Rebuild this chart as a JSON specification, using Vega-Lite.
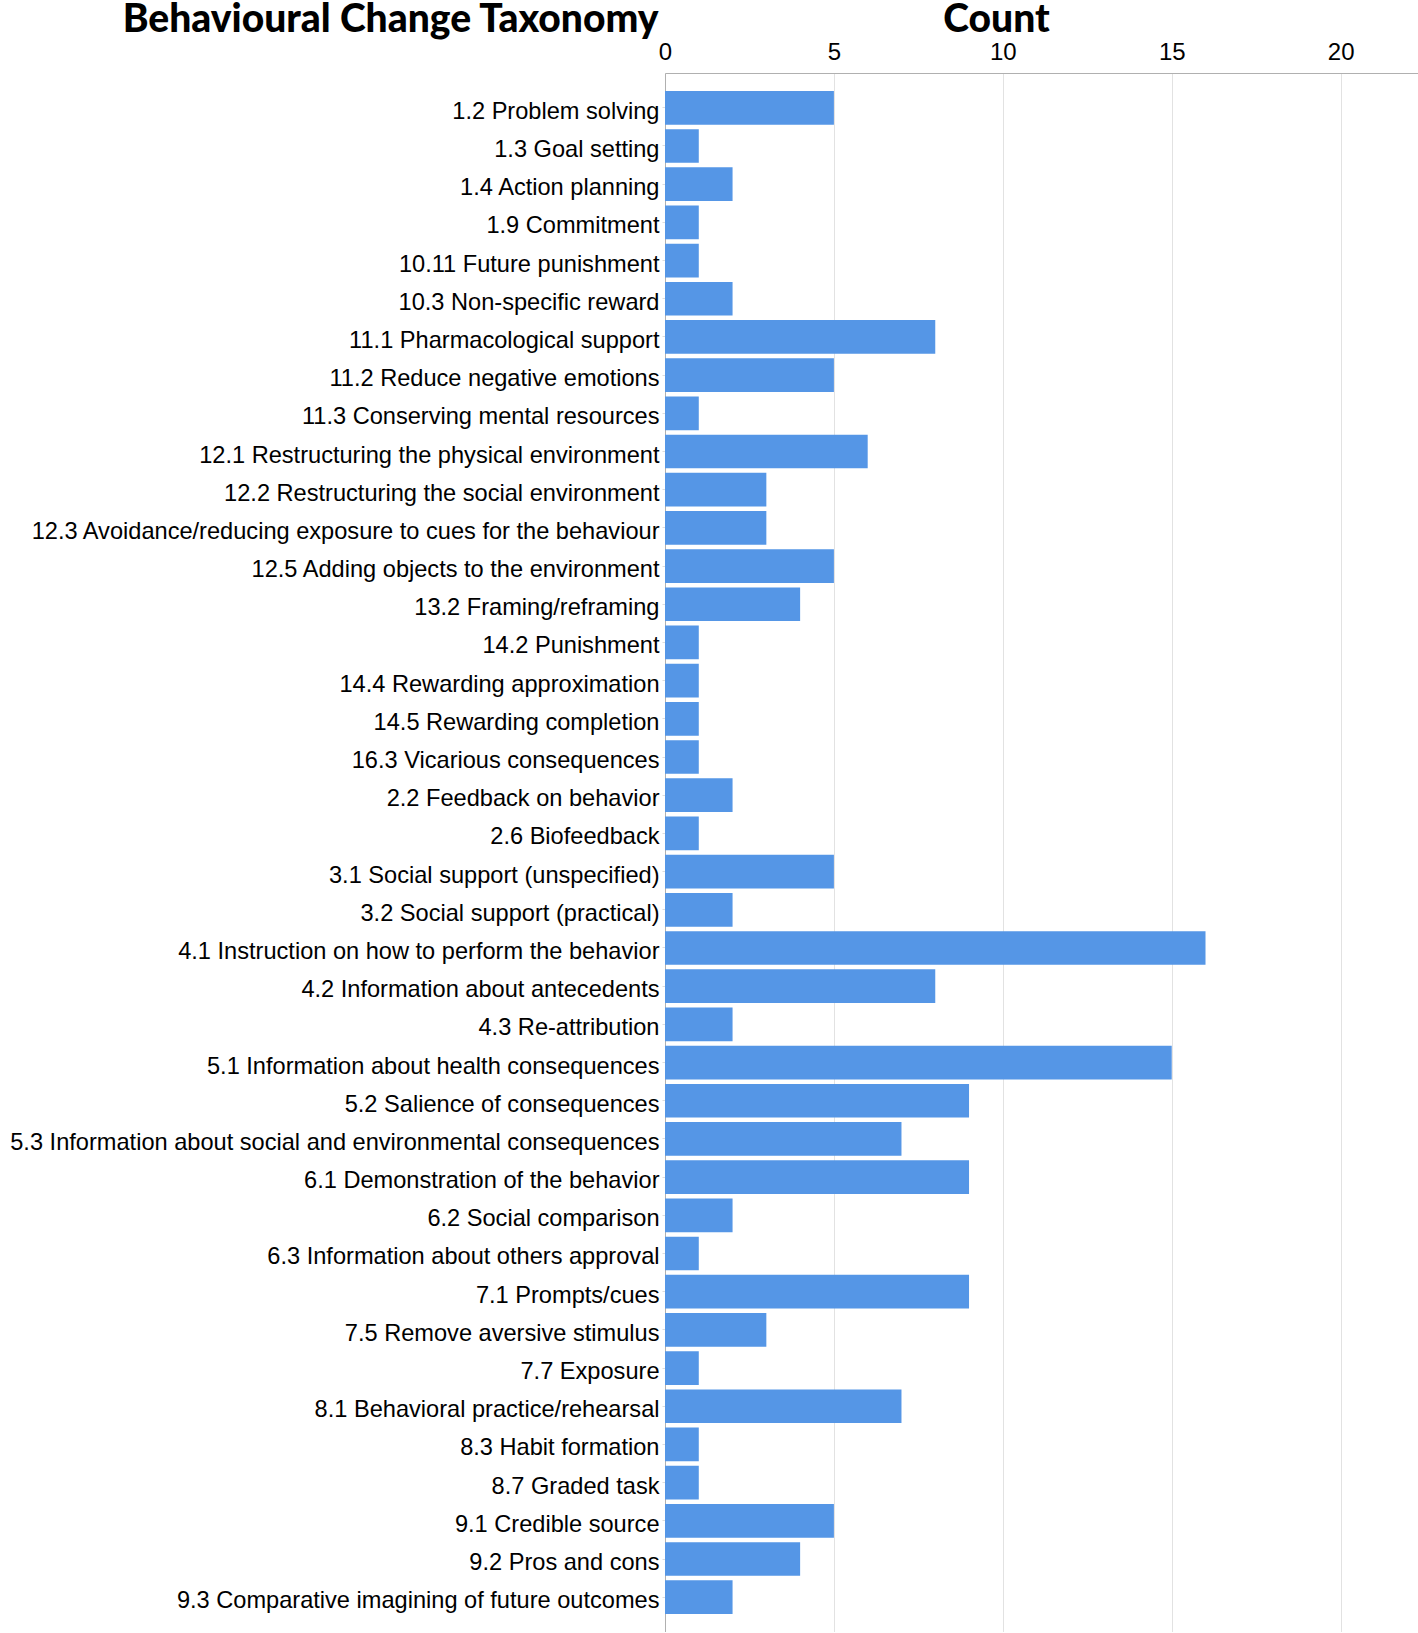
{
  "$schema": "https://vega.github.io/schema/vega-lite/v6.json",
  "autosize": "none",
  "padding": {"left": 665, "top": 73, "right": 0, "bottom": 0},
  "width": 753,
  "height": 1559,
  "background": "white",
  "config": {"view": {"stroke": null}},
  "data": {"values": [
    {"taxonomy": "1.2 Problem solving", "count": 5},
    {"taxonomy": "1.3 Goal setting", "count": 1},
    {"taxonomy": "1.4 Action planning", "count": 2},
    {"taxonomy": "1.9 Commitment", "count": 1},
    {"taxonomy": "10.11 Future punishment", "count": 1},
    {"taxonomy": "10.3 Non-specific reward", "count": 2},
    {"taxonomy": "11.1 Pharmacological support", "count": 8},
    {"taxonomy": "11.2 Reduce negative emotions", "count": 5},
    {"taxonomy": "11.3 Conserving mental resources", "count": 1},
    {"taxonomy": "12.1 Restructuring the physical environment", "count": 6},
    {"taxonomy": "12.2 Restructuring the social environment", "count": 3},
    {"taxonomy": "12.3 Avoidance/reducing exposure to cues for the behaviour", "count": 3},
    {"taxonomy": "12.5 Adding objects to the environment", "count": 5},
    {"taxonomy": "13.2 Framing/reframing", "count": 4},
    {"taxonomy": "14.2 Punishment", "count": 1},
    {"taxonomy": "14.4 Rewarding approximation", "count": 1},
    {"taxonomy": "14.5 Rewarding completion", "count": 1},
    {"taxonomy": "16.3 Vicarious consequences", "count": 1},
    {"taxonomy": "2.2 Feedback on behavior", "count": 2},
    {"taxonomy": "2.6 Biofeedback", "count": 1},
    {"taxonomy": "3.1 Social support (unspecified)", "count": 5},
    {"taxonomy": "3.2 Social support (practical)", "count": 2},
    {"taxonomy": "4.1 Instruction on how to perform the behavior", "count": 16},
    {"taxonomy": "4.2 Information about antecedents", "count": 8},
    {"taxonomy": "4.3 Re-attribution", "count": 2},
    {"taxonomy": "5.1 Information about health consequences", "count": 15},
    {"taxonomy": "5.2 Salience of consequences", "count": 9},
    {"taxonomy": "5.3 Information about social and environmental consequences", "count": 7},
    {"taxonomy": "6.1 Demonstration of the behavior", "count": 9},
    {"taxonomy": "6.2 Social comparison", "count": 2},
    {"taxonomy": "6.3 Information about others approval", "count": 1},
    {"taxonomy": "7.1 Prompts/cues", "count": 9},
    {"taxonomy": "7.5 Remove aversive stimulus", "count": 3},
    {"taxonomy": "7.7 Exposure", "count": 1},
    {"taxonomy": "8.1 Behavioral practice/rehearsal", "count": 7},
    {"taxonomy": "8.3 Habit formation", "count": 1},
    {"taxonomy": "8.7 Graded task", "count": 1},
    {"taxonomy": "9.1 Credible source", "count": 5},
    {"taxonomy": "9.2 Pros and cons", "count": 4},
    {"taxonomy": "9.3 Comparative imagining of future outcomes", "count": 2}
  ]},
  "mark": {"type": "bar", "color": "#5596e6"},
  "encoding": {
    "y": {
      "field": "taxonomy",
      "type": "nominal",
      "sort": null,
      "scale": {"paddingInner": 0.118, "paddingOuter": 0.47},
      "axis": {
        "title": "Behavioural Change Taxonomy",
        "titleAngle": 0,
        "titleAlign": "right",
        "titleBaseline": "alphabetic",
        "titleX": -7,
        "titleY": -42,
        "titleFont": "Lato",
        "titleFontWeight": 900,
        "titleFontSize": 39,
        "titleColor": "black",
        "labelFont": "Arial",
        "labelFontSize": 23.6,
        "labelColor": "black",
        "labelLimit": 800,
        "labelPadding": 3,
        "labelOffset": 4,
        "tickSize": 3,
        "tickColor": "#dddddd",
        "domainColor": "#b0b0b0",
        "grid": false
      }
    },
    "x": {
      "field": "count",
      "type": "quantitative",
      "scale": {"domain": [0, 22.29], "nice": false},
      "axis": {
        "orient": "top",
        "values": [0, 5, 10, 15, 20],
        "title": "Count",
        "titleAlign": "center",
        "titleBaseline": "alphabetic",
        "titleX": 331,
        "titleY": -42,
        "titleFont": "Lato",
        "titleFontWeight": 900,
        "titleFontSize": 39,
        "titleColor": "black",
        "labelFont": "Arial",
        "labelFontSize": 24,
        "labelColor": "black",
        "labelPadding": 9,
        "labelFlush": false,
        "ticks": false,
        "domainColor": "#b0b0b0",
        "grid": true,
        "gridColor": "#e2e2e2"
      }
    }
  }
}
